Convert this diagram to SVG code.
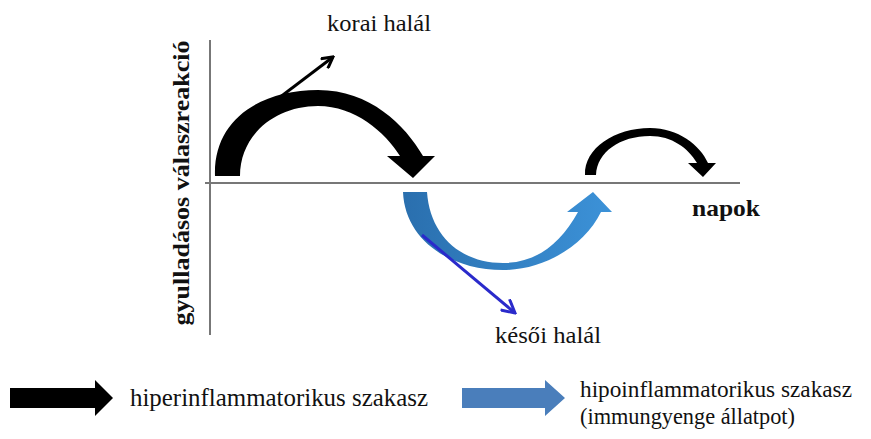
<svg xmlns="http://www.w3.org/2000/svg" width="871" height="439" viewBox="0 0 871 439">
<defs>
<style>
.s{font-family:'Liberation Serif','Times New Roman',serif;fill:#111}
.b{font-weight:bold}
.axis{stroke:#777;stroke-width:2;fill:none}
</style>
<linearGradient id="bg" x1="0" y1="0" x2="1" y2="0">
<stop offset="0" stop-color="#2a6fae"/>
<stop offset="1" stop-color="#3c92d8"/>
</linearGradient>
<marker id="ak" viewBox="0 0 14 14" refX="12" refY="7" markerWidth="14" markerHeight="14" markerUnits="userSpaceOnUse" orient="auto">
<path d="M1,1 L12,7 L1,13" fill="none" stroke="#000" stroke-width="3"/>
</marker>
<marker id="ab" viewBox="0 0 16 16" refX="14" refY="8" markerWidth="16" markerHeight="16" markerUnits="userSpaceOnUse" orient="auto">
<path d="M1,1 L14,8 L1,15" fill="none" stroke="#2a2acb" stroke-width="3"/>
</marker>
</defs>
<rect width="871" height="439" fill="#fff"/>
<g id="axes">
<line class="axis" x1="210" y1="40" x2="210" y2="335"/>
<line class="axis" x1="205" y1="183" x2="740" y2="183"/>
</g>
<g id="arc-early">
<path d="M215,176 C213,120 260,90 318,90 C370,90 405,125 423,156 L435,156 L413,178 L387,156 L400,156 C385,132 355,106 318,106 C275,106 240,135 240,176 Z" fill="#000"/>
</g>
<g id="arc-low">
<path d="M403,192 C405,240 450,270 503,270 C545,270 585,245 601,212 L612,212 L593,192 L567,212 L578,212 C560,245 535,263 503,263 C460,263 430,235 427,192 Z" fill="url(#bg)"/>
</g>
<g id="arc-late">
<path d="M585,175 C584,148 615,128 650,128 C678,128 700,145 708,163 L716,163 L703,177 L688,163 L697,163 C688,148 672,136 650,136 C620,136 597,152 596,175 Z" fill="#000"/>
</g>
<g id="connectors">
<line x1="230" y1="135" x2="333" y2="57" stroke="#000" stroke-width="3" marker-end="url(#ak)"/>
<line x1="422" y1="235" x2="515" y2="313" stroke="#2a2acb" stroke-width="3" marker-end="url(#ab)"/>
</g>
<g id="labels">
<text class="s" style="font-size:23px" x="327" y="31" textLength="104" lengthAdjust="spacingAndGlyphs">korai halál</text>
<text class="s b" style="font-size:23px" x="692" y="216" textLength="68" lengthAdjust="spacingAndGlyphs">napok</text>
<text class="s" style="font-size:23px" x="495" y="343" textLength="106" lengthAdjust="spacingAndGlyphs">késői halál</text>
<text class="s b" style="font-size:23px" transform="translate(189,183) rotate(-90)" text-anchor="middle" textLength="285" lengthAdjust="spacingAndGlyphs">gyulladásos válaszreakció</text>
</g>
<g id="legend-hyper">
<path d="M10,388 L95,388 L95,380 L113,398 L95,416 L95,408 L10,408 Z" fill="#000"/>
<text class="s" style="font-size:25px" x="130" y="406" textLength="298" lengthAdjust="spacingAndGlyphs">hiperinflammatorikus szakasz</text>
</g>
<g id="legend-hypo">
<path d="M462,388 L545,388 L545,380 L565,398 L545,416 L545,408 L462,408 Z" fill="#4a7ebb"/>
<text class="s" style="font-size:24px" x="580" y="397" textLength="272" lengthAdjust="spacingAndGlyphs">hipoinflammatorikus szakasz</text>
<text class="s" style="font-size:24px" x="580" y="424" textLength="215" lengthAdjust="spacingAndGlyphs">(immungyenge állatpot)</text>
</g>
</svg>
